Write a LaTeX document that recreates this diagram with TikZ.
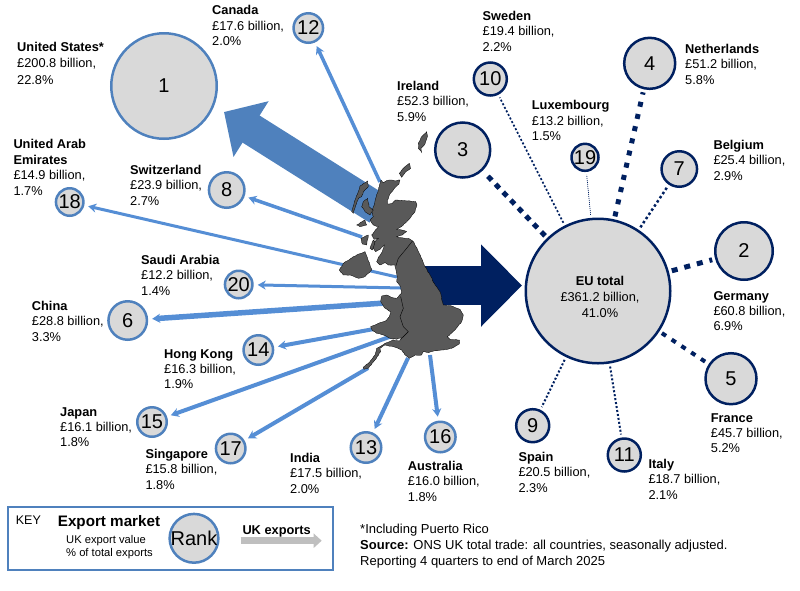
\documentclass[tikz,border=0pt]{standalone}
\usepackage{fontspec}
\setmainfont{Liberation Sans}
\usetikzlibrary{arrows.meta,decorations.pathmorphing}
\definecolor{exportblue}{HTML}{4F81BD}
\definecolor{linkblue}{HTML}{558ED5}
\definecolor{eunavy}{HTML}{002060}
\definecolor{rankgrey}{HTML}{D9D9D9}
\definecolor{mapgrey}{HTML}{595959}
\newcommand{\mkt}[3]{\textbf{#1}\\#2 billion,\\#3}
\tikzset{
rankworld/.style={shape=circle, draw=exportblue, fill=rankgrey, line width=2.5pt, inner sep=0pt, font=\fontsize{20}{20}\selectfont},
rankeu/.style={rankworld, draw=eunavy},
marketlabel/.style={anchor=north west, align=left, inner sep=0pt, font=\fontsize{12.8}{15.4}\selectfont},
worldlink/.style={draw=linkblue, -{Stealth[length=8pt,width=9pt]}, shorten >=4pt},
eulink/.style={draw=eunavy, shorten >=3pt, shorten <=3pt},
mapland/.style={fill=mapgrey, draw=black, line width=0.3pt, decorate, decoration={random steps, segment length=2pt, amplitude=0.3pt}}
}
\begin{document}
\begin{tikzpicture}[x=1pt,y=-1pt]
\useasboundingbox (0,0) rectangle (800,590);
% big arrows
\coordinate (oUS) at (378,209);
\coordinate (tUS) at (224,112);
\coordinate (oEU) at (425,285.5);
\coordinate (tEU) at (522,285.5);
\draw[exportblue, line width=32pt, -{Triangle[length=32pt,width=64pt]}] (oUS) -- (tUS);
\draw[eunavy, line width=39pt, -{Triangle[length=41pt,width=80pt]}] (oEU) -- (tEU);
% circles
\foreach \n/\x/\y/\d in {1/164/86/105.5, 12/308.3/28/29.5, 8/226.7/190/35.5, 18/69.7/202/27.5,
20/238.7/284.5/27.5, 6/127.7/320.5/38.5, 14/258.3/350/29.5, 15/152/422/29.5, 17/230.7/448.5/29.5,
13/366/447.5/30.5, 16/440.3/437/30.5}
\node[rankworld, minimum size=\d pt] (c\n) at (\x,\y) {\n};
\foreach \n/\x/\y/\d in {3/462.7/150/55, 10/490.3/79/33, 19/585/157.3/27, 4/649.7/63.3/51, 7/679.3/169/35.5,
2/744/251/57.5, 5/731/378.7/51, 11/624.3/455/33, 9/532.7/425.7/33}
\node[rankeu, minimum size=\d pt] (c\n) at (\x,\y) {\n};
\node[rankeu, minimum size=144.5pt] (eu) at (598,291) {};
\node[anchor=north, align=center, inner sep=0pt, font=\fontsize{12.8}{15.6}\selectfont] (teu) at (600,276.5) {\textbf{EU total}\\£361.2 billion,\\41.0\%};
% thin arrows
\foreach \n/\x/\y/\w in {12/380/182/3.5, 8/362/237/3.5, 18/397/277/3, 20/402/288/3, 6/385/303/5.5,
14/374/329/4, 15/392/336/4, 17/368/368/4, 13/408/358/4, 16/430/355/4}{
\coordinate (o\n) at (\x,\y);
\draw[worldlink, line width=\w pt] (o\n) -- (c\n);
}
% dashed links
\foreach \n/\w/\a/\b in {3/5/5.5/5.5, 4/5/5/7.5, 2/5/6/7, 5/4/5/6.7, 7/2.5/2.5/2.5, 10/1.7/2/2, 9/2/2/2, 11/2/2/2, 19/0.7/1/1}
\draw[eulink, line width=\w pt, dash pattern=on \a pt off \b pt] (eu) -- (c\n);
% map
\begin{scope}[shift={(320,120)},scale=0.3333]
\path[mapland] (183,180)--(190,188)--(200,182)--(215,180)--(225,183)--(240,180)--(237,192)--(223,205)--(210,222)--(203,240)--(203,252)--(217,250)--(227,240)--(255,242)--(287,245)--(291,255)--(285,275)--(270,295)--(250,315)--(230,328)--(245,330)--(260,335)--(247,345)--(230,350)--(245,353)--(265,355)--(280,365)--(293,390)--(305,415)--(315,440)--(330,465)--(345,495)--(360,515)--(370,555)--(395,558)--(420,568)--(430,585)--(425,605)--(405,630)--(382,650)--(390,658)--(418,660)--(418,672)--(395,685)--(370,690)--(345,692)--(325,698)--(310,695)--(305,705)--(285,705)--(268,715)--(255,705)--(245,690)--(220,680)--(195,675)--(180,685)--(182,695)--(165,720)--(145,745)--(132,748)--(130,742)--(150,725)--(165,705)--(170,685)--(195,670)--(220,660)--(238,663)--(248,652)--(230,658)--(210,655)--(190,645)--(170,640)--(158,632)--(152,620)--(175,610)--(198,602)--(208,590)--(212,575)--(195,565)--(182,545)--(185,528)--(200,525)--(215,532)--(230,535)--(245,520)--(242,500)--(230,485)--(232,475)--(228,450)--(225,435)--(205,435)--(195,428)--(180,435)--(170,425)--(175,412)--(187,395)--(193,375)--(180,388)--(167,395)--(160,385)--(165,365)--(175,355)--(163,358)--(155,345)--(163,335)--(175,320)--(160,315)--(150,300)--(160,290)--(155,275)--(163,255)--(167,235)--(175,210)--cycle;
\path[mapland] (58,450)--(70,430)--(100,410)--(135,395)--(150,435)--(155,450)--(135,470)--(115,475)--(90,465)--(70,465)--cycle;
\path[mapland] (120,198)--(143,183)--(145,200)--(130,215)--(125,230)--(115,235)--(110,250)--(100,280)--(95,275)--(103,245)--(115,215)--cycle;
\path[mapland] (130,245)--(143,235)--(147,260)--(160,270)--(150,285)--(135,275)--(125,260)--cycle;
\path[mapland] (110,315)--(135,300)--(140,315)--(120,320)--cycle;
\path[mapland] (123,355)--(145,345)--(140,375)--(127,372)--cycle;
\path[mapland] (150,385)--(160,360)--(165,365)--(157,390)--cycle;
\path[mapland] (238,160)--(250,145)--(268,130)--(272,145)--(258,155)--(245,172)--cycle;
\path[mapland] (295,70)--(305,50)--(320,35)--(322,50)--(315,72)--(303,85)--(305,97)--(295,85)--cycle;
\draw[black, line width=0.4pt] (278,362)--(260,385)--(235,415)--(228,437);
\draw[black, line width=0.4pt] (242,530)--(250,565)--(240,590)--(250,620)--(265,635)--(248,652);
\end{scope}
% labels
\node[marketlabel] (tUnitedStates) at (17,42) {\textbf{United States*}\\[1pt]£200.8 billion,\\[1pt]22.8\%};
\node[marketlabel] (tCanada) at (212,5.5) {\mkt{Canada}{£17.6}{2.0\%}};
\node[marketlabel] (tSweden) at (482.5,11) {\mkt{Sweden}{£19.4}{2.2\%}};
\node[marketlabel] (tIreland) at (397,81) {\mkt{Ireland}{£52.3}{5.9\%}};
\node[marketlabel] (tLuxembourg) at (531.7,100.5) {\mkt{Luxembourg}{£13.2}{1.5\%}};
\node[marketlabel] (tNetherlands) at (685,44) {\mkt{Netherlands}{£51.2}{5.8\%}};
\node[marketlabel] (tBelgium) at (713.3,140) {\mkt{Belgium}{£25.4}{2.9\%}};
\node[marketlabel] (tEmirates) at (13.3,139.5) {\textbf{United Arab}\\\textbf{Emirates}\\£14.9 billion,\\1.7\%};
\node[marketlabel] (tSwitzerland) at (130,165) {\mkt{Switzerland}{£23.9}{2.7\%}};
\node[marketlabel] (tSaudi) at (141,255) {\mkt{Saudi Arabia}{£12.2}{1.4\%}};
\node[marketlabel] (tChina) at (31.7,301) {\mkt{China}{£28.8}{3.3\%}};
\node[marketlabel] (tHongKong) at (164,349) {\mkt{Hong Kong}{£16.3}{1.9\%}};
\node[marketlabel] (tJapan) at (60,407) {\mkt{Japan}{£16.1}{1.8\%}};
\node[marketlabel] (tSingapore) at (145.3,449) {\mkt{Singapore}{£15.8}{1.8\%}};
\node[marketlabel] (tIndia) at (290,453) {\mkt{India}{£17.5}{2.0\%}};
\node[marketlabel] (tAustralia) at (407.7,461) {\mkt{Australia}{£16.0}{1.8\%}};
\node[marketlabel] (tGermany) at (713.3,291) {\mkt{Germany}{£60.8}{6.9\%}};
\node[marketlabel] (tFrance) at (710.7,413) {\mkt{France}{£45.7}{5.2\%}};
\node[marketlabel] (tSpain) at (518.3,452) {\mkt{Spain}{£20.5}{2.3\%}};
\node[marketlabel] (tItaly) at (648.3,459) {\mkt{Italy}{£18.7}{2.1\%}};
% key
\node[draw=exportblue, line width=2pt, inner sep=0pt, minimum width=325pt, minimum height=62.5pt] (keybox) at (170.8,538.7) {};
\node[marketlabel, font=\fontsize{12.5}{15}\selectfont] (keyword) at (15.7,516) {KEY};
\node[marketlabel, font=\fontsize{15.2}{18}\bfseries\selectfont] (keytitle) at (57.7,515) {Export market};
\node[marketlabel, font=\fontsize{11.2}{13}\selectfont] (keytext) at (66,535) {UK export value\\\% of total exports};
\node[rankworld, minimum size=47.5pt] (keyrank) at (194,538.3) {Rank};
\node[marketlabel] (keyarrow) at (242.3,525) {\textbf{UK exports}};
\coordinate (keyfrom) at (240.7,540.7);
\coordinate (keyto) at (321.7,540.7);
\draw[black!25, line width=7pt, -{Triangle[length=8pt,width=14pt]}] (keyfrom) -- (keyto);
% source
\node[marketlabel, font=\fontsize{13}{16}\selectfont] (source) at (360,524) {*Including Puerto Rico\\\textbf{Source:} ONS UK total trade: all countries, seasonally adjusted.\\Reporting 4 quarters to end of March 2025};
\end{tikzpicture}
\end{document}
